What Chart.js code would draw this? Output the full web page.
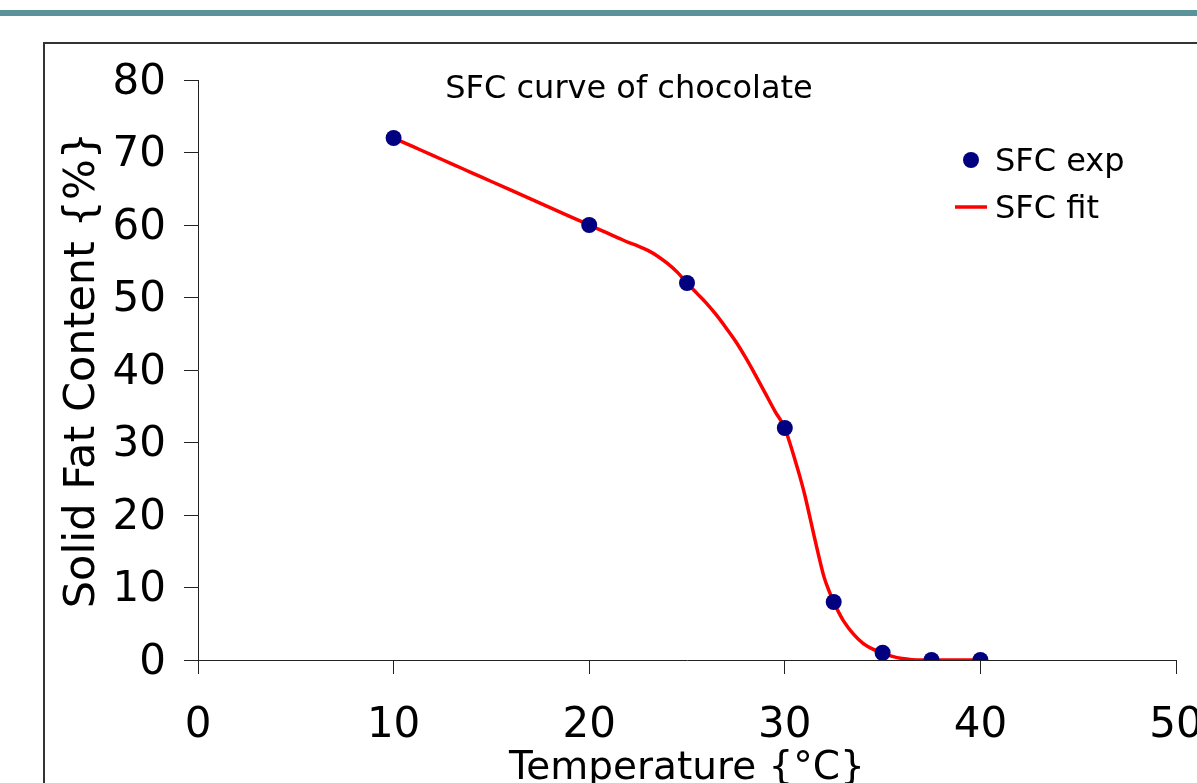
<!DOCTYPE html>
<html>
<head>
<meta charset="utf-8">
<script src="https://cdn.jsdelivr.net/npm/chart.js@4"></script>
<style>
  html, body { margin: 0; padding: 0; background: #ffffff; }
  #wrap { position: relative; width: 1197px; height: 783px; overflow: hidden; }
  canvas { display: block; }
</style>
</head>
<body>
<div id="wrap"><canvas id="c" width="1197" height="783"></canvas></div>
<script>
// ---- data ----
const chartTitle = "SFC curve of chocolate";
const xTitle = "Temperature {°C}";
const yTitle = "Solid Fat Content {%}";
const seriesNames = ["SFC exp", "SFC fit"];

const expTemp = [10, 20, 25, 30, 32.5, 35, 37.5, 40];
const expSfc  = [72, 60, 52, 32, 8, 1, 0, 0];

const fitTemp = [10, 11, 12, 13, 14, 15, 16, 17, 18, 19, 20, 20.5, 21, 21.5, 22, 22.5, 23, 23.5, 24, 24.5,
                 25, 25.5, 26, 26.5, 27, 27.5, 28, 28.5, 29, 29.5, 30, 30.25, 30.5, 30.75, 31, 31.25, 31.5, 31.75,
                 32, 32.25, 32.5, 32.75, 33, 33.5, 34, 34.5, 35, 35.5, 36, 36.5, 37, 38, 39, 40];
const fitSfc  = [72, 70.8, 69.6, 68.4, 67.2, 66, 64.8, 63.6, 62.4, 61.2, 60, 59.4, 58.8, 58.2, 57.6, 57.1, 56.5, 55.7, 54.7, 53.5,
                 52, 50.6, 49.2, 47.6, 45.8, 43.9, 41.7, 39.3, 36.8, 34.3, 32, 30.0, 27.8, 25.5, 23.0, 20.1, 17.1, 14.2,
                 11.5, 9.6, 8.0, 6.6, 5.4, 3.6, 2.3, 1.5, 1.0, 0.5, 0.2, 0.05, 0, 0, 0, 0];

const xMin = 0, xMax = 50, xStep = 10;
const yMin = 0, yMax = 80, yStep = 10;

// ---- styling ----
const FONT = "'DejaVu Sans', Verdana, sans-serif";
const NAVY = "#000080";
const RED = "#ff0000";
const AXIS = "#222222";

const frame = {
  id: 'frame',
  beforeDraw(chart) {
    const ctx = chart.ctx;
    ctx.save();
    ctx.fillStyle = '#ffffff';
    ctx.fillRect(0, 0, chart.width, chart.height);
    // teal band at top
    ctx.fillStyle = '#5b939c';
    ctx.fillRect(0, 10, chart.width, 6);
    // box frame
    ctx.strokeStyle = '#333333';
    ctx.lineWidth = 2;
    ctx.beginPath();
    ctx.moveTo(44, chart.height + 5);
    ctx.lineTo(44, 43);
    ctx.lineTo(chart.width + 5, 43);
    ctx.stroke();
    ctx.restore();
  }
};

const overlay = {
  id: 'overlay',
  afterDraw(chart) {
    const ctx = chart.ctx;
    ctx.save();
    // chart title
    ctx.fillStyle = '#000';
    ctx.font = "32px " + FONT;
    ctx.textAlign = 'center';
    ctx.textBaseline = 'middle';
    ctx.fillText(chartTitle, 629, 90);
    // legend
    ctx.textAlign = 'left';
    ctx.fillText(seriesNames[0], 995, 163);
    ctx.fillText(seriesNames[1], 995, 210);
    ctx.fillStyle = NAVY;
    ctx.beginPath();
    ctx.arc(971, 160, 8, 0, Math.PI * 2);
    ctx.fill();
    ctx.strokeStyle = RED;
    ctx.lineWidth = 3.5;
    ctx.beginPath();
    ctx.moveTo(955, 207);
    ctx.lineTo(987, 207);
    ctx.stroke();
    ctx.restore();
  }
};

const expData = expTemp.map((t, i) => ({ x: t, y: expSfc[i] }));
const fitData = fitTemp.map((t, i) => ({ x: t, y: fitSfc[i] }));

new Chart(document.getElementById('c'), {
  type: 'scatter',
  data: {
    datasets: [
      {
        label: seriesNames[0],
        data: expData,
        showLine: false,
        pointRadius: 8,
        pointHoverRadius: 8,
        pointBackgroundColor: NAVY,
        pointBorderColor: NAVY,
        pointBorderWidth: 0,
        order: 0
      },
      {
        label: seriesNames[1],
        data: fitData,
        showLine: true,
        borderColor: RED,
        borderWidth: 3.5,
        pointRadius: 0,
        pointHoverRadius: 0,
        cubicInterpolationMode: 'monotone',
        fill: false,
        order: 1
      }
    ]
  },
  options: {
    responsive: false,
    animation: false,
    devicePixelRatio: 1,
    layout: { padding: { top: 80, right: 21, left: 0, bottom: 0 } },
    plugins: {
      legend: { display: false },
      tooltip: { enabled: false },
      title: { display: false }
    },
    scales: {
      x: {
        type: 'linear',
        min: xMin, max: xMax,
        ticks: {
          stepSize: xStep,
          color: '#000',
          font: { family: FONT, size: 42 },
          padding: 27,
          maxRotation: 0,
          autoSkip: false
        },
        grid: { drawOnChartArea: false, drawTicks: true, tickLength: 14, tickColor: AXIS, color: AXIS },
        border: { display: true, color: AXIS, width: 1 },
        title: {
          display: true,
          text: xTitle,
          color: '#000',
          font: { family: FONT, size: 39, lineHeight: 0.7 },
          padding: { top: 0, bottom: 0 }
        },
        afterFit(scale) {
          scale.height = 123;
          scale.paddingLeft = 0; scale.paddingRight = 0;
          scale.paddingTop = 0; scale.paddingBottom = 0;
        }
      },
      y: {
        type: 'linear',
        min: yMin, max: yMax,
        ticks: {
          stepSize: yStep,
          color: '#000',
          font: { family: FONT, size: 42 },
          padding: 18,
          labelOffset: 3
        },
        grid: { drawOnChartArea: false, drawTicks: true, tickLength: 14, tickColor: AXIS, color: AXIS },
        border: { display: true, color: AXIS, width: 1 },
        title: {
          display: true,
          text: yTitle,
          color: '#000',
          font: { family: FONT, size: 43, lineHeight: 1.2 },
          padding: { top: 57, bottom: 0 }
        },
        afterFit(scale) {
          scale.width = 198;
          scale.paddingLeft = 0; scale.paddingRight = 0;
          scale.paddingTop = 0; scale.paddingBottom = 0;
        }
      }
    }
  },
  plugins: [frame, overlay]
});
</script>
</body>
</html>
